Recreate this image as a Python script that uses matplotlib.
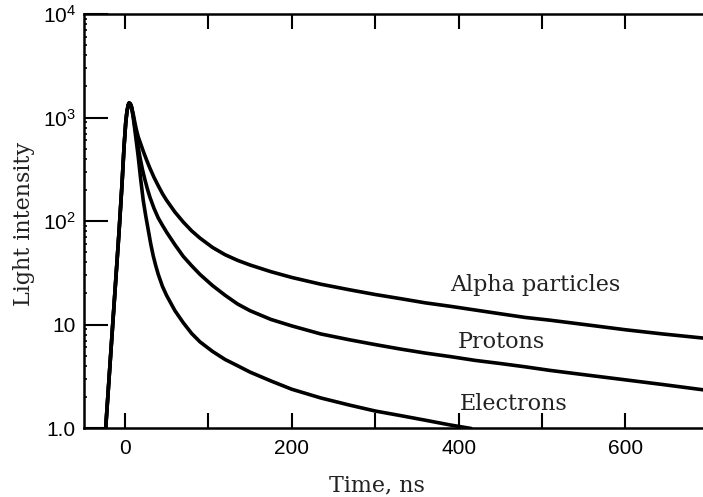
import matplotlib
matplotlib.use('Agg')
import matplotlib.pyplot as plt
from matplotlib.ticker import LogLocator, NullFormatter

# values (time in ns, light intensity)
# shared rise and peak, common to all three curves
rise_t = [-23, -14.6, -7, -3.5, -1, 1, 2.5, 4, 5, 6, 7, 8]
rise_i = [1, 10, 79, 224, 525, 891, 1150, 1320, 1380, 1370, 1330, 1260]

alpha_t = [10, 12, 14, 16, 19, 22, 26, 30, 35, 40, 45, 50, 60, 70, 80, 90, 105,
           120, 135, 150, 175, 200, 235, 270, 300, 330, 360, 390, 420, 450, 480,
           510, 555, 600, 645, 693]
alpha_i = [1080, 890, 750, 650, 555, 473, 389, 324, 263, 219, 184, 158.5, 122,
           97.7, 80.4, 68.4, 55.6, 47.3, 41.7, 37.6, 32.4, 28.5, 24.5, 21.6, 19.5,
           17.8, 16.2, 15.0, 13.8, 12.7, 11.7, 11.0, 9.9, 8.9, 8.1, 7.4]

proton_t = [10, 12, 14, 16, 18, 21, 24, 27, 30, 35, 40, 45, 50, 60, 70, 80, 90,
            105, 120, 135, 150, 175, 200, 235, 270, 300, 330, 360, 390, 420, 450,
            480, 510, 555, 600, 645, 693]
proton_i = [1030, 820, 650, 515, 417, 316, 251, 204, 170, 132, 107, 91, 78, 59,
            45.5, 37, 30.5, 23.8, 19.2, 15.8, 13.6, 11.2, 9.7, 8.1, 7.1, 6.4, 5.8,
            5.3, 4.9, 4.5, 4.2, 3.9, 3.6, 3.24, 2.92, 2.63, 2.34]

electron_t = [10, 12, 14, 16, 19, 22, 25, 28, 31, 34, 37, 40, 45, 50, 60, 70, 80,
              90, 105, 120, 135, 150, 175, 200, 235, 270, 300, 330, 360, 390, 415]
electron_i = [1000, 750, 562, 417, 251, 158, 112, 82, 60, 46, 37, 30.5, 23.4, 19.1,
              13.6, 10.4, 8.2, 6.8, 5.5, 4.6, 4.0, 3.47, 2.85, 2.37, 1.95, 1.66,
              1.46, 1.32, 1.19, 1.07, 0.99]

curve_names = ['Alpha particles', 'Protons', 'Electrons']
label_pos = [(390, 24), (399, 6.8), (402, 1.7)]

x_major = [0, 200, 400, 600]
x_minor = [100, 300, 500]
y_major = [1, 10, 100, 1000, 10000]
y_labels = ['1.0', '10', '10$^{2}$', '10$^{3}$', '10$^{4}$']

plt.rcParams['mathtext.fontset'] = 'custom'
plt.rcParams['mathtext.rm'] = 'Liberation Sans'
plt.rcParams['mathtext.default'] = 'regular'

fig = plt.figure(figsize=(7.03, 4.97), dpi=100)
ax = fig.add_axes([0.1195, 0.1388, 0.8805, 0.833])

for t, i in [(alpha_t, alpha_i), (proton_t, proton_i), (electron_t, electron_i)]:
    ax.plot(rise_t + t, rise_i + i, color='black', lw=2.6,
            solid_capstyle='round', solid_joinstyle='round')

ax.set_yscale('log')
ax.set_xlim(-49, 693)
ax.set_ylim(1, 1e4)

ax.spines['right'].set_visible(False)
for s in ['left', 'top', 'bottom']:
    ax.spines[s].set_linewidth(1.8)

ax.set_xticks(x_major)
ax.set_xticklabels([str(v) for v in x_major])
ax.set_xticks(x_minor, minor=True)
ax.set_yticks(y_major)
ax.set_yticklabels(y_labels)
ax.yaxis.set_minor_locator(LogLocator(subs=range(2, 10)))
ax.yaxis.set_minor_formatter(NullFormatter())

ax.tick_params(axis='x', which='both', direction='in', length=11, width=1.5,
               top=True, pad=8)
ax.tick_params(axis='y', which='major', direction='in', length=17, width=1.5, pad=6)
ax.tick_params(axis='y', which='minor', direction='in', length=2.5, width=1.2)
for lab in ax.get_xticklabels() + ax.get_yticklabels():
    lab.set_fontfamily('Liberation Sans')
    lab.set_fontsize(15)

for name, (x, y) in zip(curve_names, label_pos):
    ax.text(x, y, name, fontfamily='DejaVu Serif', fontsize=16, color='#222222',
            va='center', ha='left')

fig.text(24 / 703, 1 - 224 / 497, 'Light intensity', rotation=90, ha='center',
         va='center', fontfamily='DejaVu Serif', fontsize=16, color='#222222')
fig.text(377 / 703, 1 - 485 / 497, 'Time, ns', ha='center', va='center',
         fontfamily='DejaVu Serif', fontsize=16, color='#222222')

fig.savefig('out.png', dpi=100)
